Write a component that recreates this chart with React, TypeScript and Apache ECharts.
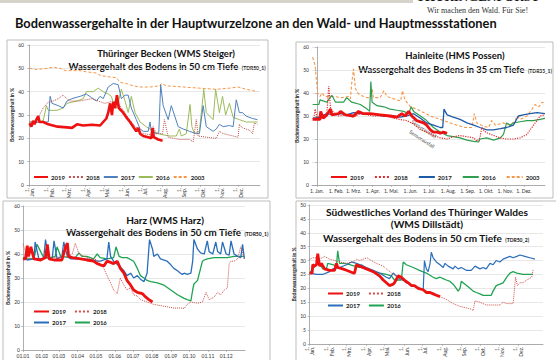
import React, { useEffect, useRef } from 'react';
import * as echarts from 'echarts';

// ---------- axis tick labels ----------
const MONTH_STARTS = [0, 31, 59, 90, 120, 151, 181, 212, 243, 273, 304, 334];
const MONTHS_DE = ['Jan.', 'Feb.', 'Mrz.', 'Apr.', 'Mai.', 'Jun.', 'Jul.', 'Aug.', 'Sep.', 'Okt.', 'Nov.', 'Dez.'];
const MONTHS_NUM = ['01.01', '01.02', '01.03', '01.04', '01.05', '01.06', '01.07', '01.08', '01.09', '01.10', '01.11', '01.12'];

// ---------- Panel 1: Thüringer Becken (WMS Steiger) [day of year, %] ----------
const steiger2019 = [[0,26.4],[3,25],[6,27.5],[8,26],[11,28],[14,29.5],[16,27],[22,27],[30,26],[45,25],[60,24.7],[68,24.5],[76,26],[86,25.5],[100,25.8],[113,25.5],[118,27],[123,28.5],[126,31],[129,35],[132,30],[134,35.5],[137,33],[140,38.5],[143,33],[150,31],[155,29],[161,27],[166,25],[171,23],[174,24.5],[177,22],[182,21],[190,20.5],[195,20],[197,24.5],[199,20.5],[206,19.5],[213,19]];
const steiger2018 = [[0,27],[12,28],[22,33],[30,35.5],[38,36],[46,37],[54,38.5],[60,37],[65,36],[80,36],[100,37],[120,35],[135,36],[145,34],[155,30],[166,26],[182,22],[195,21.5],[198,25],[203,22],[213,22],[216,28],[222,20.5],[240,19.5],[256,19.5],[262,18.5],[267,28],[270,21],[283,20.5],[299,20],[304,23],[310,22],[326,21],[334,20.5],[336,26],[341,24.5],[352,23.5],[357,22],[360,26.5],[365,26]];
const steiger2017 = [[0,26.5],[17,27],[30,27],[33,38],[36,35],[46,34],[54,33],[60,36],[68,37],[81,38],[91,39],[99,37.5],[107,36],[113,38],[118,37],[126,42],[134,43.5],[142,43],[147,37],[153,38.5],[158,38.5],[163,33],[171,28],[177,24],[182,23],[190,23],[193,27],[195,23],[203,22],[207,22.5],[210,43],[214,34],[222,28],[227,34],[232,30],[238,25],[246,24],[256,23],[267,22],[272,22],[278,34],[283,25],[294,23],[299,24],[304,26],[310,25],[320,25.5],[326,25],[331,36.5],[336,31],[341,31],[347,29.5],[357,28.5],[365,28]];
const steiger2016 = [[0,27],[12,27],[22,27.5],[27,34],[30,32],[44,32],[54,33],[60,35],[68,35.5],[76,36],[86,37],[91,40],[102,40],[110,41.5],[118,40],[126,39],[131,38],[137,33],[140,33],[147,41],[153,36],[158,31],[163,38],[169,31],[177,27],[187,25],[198,23],[206,22],[214,21.5],[224,21],[235,21],[240,24],[243,21],[251,22],[257,34.5],[260,25],[264,22],[272,23],[279,41],[283,31],[294,28],[298,41],[304,31],[309,38],[314,30],[320,35],[326,29],[336,28],[347,27],[365,27]];
const steiger2003 = [[0,50],[12,49.5],[28,50],[38,50.5],[49,50],[57,49],[65,49],[81,49],[91,48.5],[107,48],[113,47],[123,46.5],[139,46],[145,44],[155,43.5],[166,42.5],[177,42],[193,42],[209,42.5],[211,43.5],[219,42.5],[246,42],[272,41.5],[299,41],[320,41.5],[334,42],[347,41],[357,40.5],[365,40]];

// ---------- Panel 2: Hainleite (HMS Possen) ----------
const possen2019 = [[-7,28.5],[5,28.5],[6,32],[10,29],[16,30.5],[22,33],[24,30.5],[35,31],[38,32],[46,30.5],[59,30],[67,32],[75,31],[86,31],[102,30.5],[118,30],[129,29.5],[137,31],[142,30],[148,32],[153,30],[161,28],[172,27],[177,26],[183,24],[188,23],[194,23],[199,22.5],[204,23],[210,22.5]];
const possen2018 = [[-5,29],[-3,33],[0,29.5],[11,30.5],[16,31],[19,43],[22,33],[27,31.5],[35,30],[48,30.5],[59,29.5],[70,31],[81,30.5],[91,30],[102,30],[113,30],[124,29],[134,28.5],[145,28],[156,26.5],[167,24],[177,23],[188,21.5],[199,20.5],[210,20],[220,21],[231,21.5],[242,21],[253,20.5],[258,19],[263,20.5],[266,25],[272,23],[285,21.5],[296,20.5],[306,20],[317,20],[328,20.5],[339,22],[344,24],[355,28],[360,30],[368,30.5]];
const possen2017 = [[-7,29],[5,29.5],[16,31],[27,30.5],[38,31],[48,30.5],[59,31.5],[70,31],[86,31],[97,30.5],[108,30],[124,30],[134,29.5],[145,30],[156,31],[167,29],[177,27],[188,26],[199,25],[203,25],[205,33],[210,30.5],[220,29.5],[231,28.5],[242,27],[253,26],[263,25],[274,24],[285,24],[296,24.5],[306,25],[317,26],[325,30],[333,30.5],[344,31],[355,31.5],[368,31]];
const possen2016 = [[-7,35],[3,35],[5,37],[16,36],[24,39],[30,36],[43,36],[48,38],[56,36],[70,35],[81,33],[85,32],[87,45],[89,36],[97,34.5],[108,34],[118,33],[129,32.5],[140,32],[148,31],[152,34],[156,32],[167,30],[177,28],[188,25],[199,23],[210,21.5],[220,21],[231,20.5],[242,19.5],[253,19],[261,18.7],[263,20],[274,20.5],[285,19.5],[296,20.5],[301,22],[306,27],[312,26],[317,27],[328,27.5],[339,28],[349,28],[360,28.5],[368,29]];
const possen2003 = [[-7,55.6],[-3,52],[1,40],[5,38.5],[8,40],[13,38.5],[27,38.5],[40,38],[51,38.5],[54,37.5],[56,44],[59,50.5],[62,42],[66,40],[70,39],[81,38],[86,38],[89,42],[91,38],[102,38],[108,41],[113,38.5],[118,38],[129,37],[135,36.5],[138,41],[142,37],[151,34],[161,33],[172,31.5],[183,30],[194,29],[210,27.5],[226,26],[239,25],[250,25],[254,31],[258,27],[269,25.5],[277,25],[282,28],[288,26],[301,27],[312,26],[320,28],[323,30],[328,28.5],[339,30],[347,33],[352,35],[358,34],[363,36],[368,35.5]];

// ---------- Panel 3: Harz (WMS Harz) ----------
const harz2019 = [[0,38],[4,38],[7,43.5],[9,39],[13,43],[18,38],[29,37.5],[37,38.5],[40,44],[43,38],[51,37.5],[64,37.5],[70,43],[73,44.5],[75,39],[81,38.5],[95,38],[105,37.5],[116,37],[122,36],[127,35.5],[133,35],[138,37],[144,36.5],[149,36],[155,37],[160,34],[166,32],[171,29],[177,27],[182,25],[188,24],[196,23.5],[202,22],[207,21],[213,20]];
const harz2018 = [[0,44.3],[7,38.5],[18,38],[29,38],[51,38.5],[73,39],[81,40],[86,44.5],[92,40],[105,38.5],[122,37.5],[127,36],[133,34],[138,31],[144,28],[149,25],[155,23.5],[160,30],[166,27],[171,25],[177,26],[182,23],[188,22.5],[193,21],[204,20],[215,19],[226,18.5],[237,18],[248,17.5],[259,17.5],[265,17.3],[270,19],[276,20],[287,19.5],[295,20],[301,24],[306,21],[314,22],[320,24],[325,23],[331,25],[336,26],[339,36],[342,37],[347,37],[353,38],[358,43],[364,38]];
const harz2017 = [[0,38.5],[7,37.5],[18,38],[20,45],[26,38],[34,38],[37,46],[42,38],[48,38],[51,45.5],[56,38],[64,39],[67,45],[73,39],[78,38],[89,38],[100,38],[114,37.5],[122,37],[127,37],[138,38],[141,45],[144,39],[149,37],[158,35],[166,33],[171,31],[177,32],[182,30],[188,31],[193,29.5],[199,28.5],[204,32],[208,46],[213,42],[215,39],[221,40],[226,38],[237,37],[243,35.5],[248,34],[254,33],[259,32],[262,31.5],[265,32],[270,31.5],[276,32],[279,37],[281,46],[287,42],[292,40.5],[298,40],[303,45.5],[306,41],[312,40],[317,45],[320,41],[325,40],[328,45],[334,40],[339,39.5],[342,45.5],[347,40],[353,39],[358,38.5],[361,44],[364,38]];
const harz2016 = [[0,38.5],[7,38],[18,38],[23,44],[29,41],[34,38.5],[45,38.5],[53,39],[56,43],[62,39],[78,38.5],[86,38.5],[92,40.5],[97,39],[105,39],[116,38],[122,40],[127,38.5],[138,38],[149,38.5],[153,43],[158,39],[163,38.5],[171,38.5],[182,37],[188,34],[193,31],[199,30],[204,29],[210,28.5],[221,28],[232,27],[243,25],[254,23],[265,21.5],[270,21],[276,20.5],[279,25],[281,27.5],[287,29],[292,34],[295,37],[298,37.5],[303,38],[314,38.5],[325,38.5],[336,38.5],[347,39],[358,39],[364,39]];

// ---------- Panel 4: Südwestliches Vorland des Thüringer Waldes (WMS Dillstädt) ----------
const dill2019 = [[0,25.5],[4,25.5],[5,28.5],[8,28],[11,28.5],[13,32.5],[16,28],[19,29],[24,27],[32,26.5],[40,26.5],[43,29],[45,27.5],[53,27],[59,26.5],[70,25.5],[72,25.5],[75,28.5],[80,28],[91,27],[102,26],[112,24.5],[118,23],[123,22],[128,21],[134,21.5],[136,22],[142,24.5],[147,24],[152,23],[158,22],[163,21],[168,21],[174,20],[182,19.5],[187,18.5],[193,18.5],[198,18],[203,17.5],[209,17]];
const dill2018 = [[0,30.4],[5,31],[11,31],[16,30.5],[24,31.5],[32,30.5],[40,30],[48,29.5],[59,29],[70,29.5],[75,30.5],[80,30],[86,30.5],[92,31],[99,30],[107,29],[118,28],[123,27],[134,25],[144,23.5],[155,22],[166,21],[176,20],[187,19],[198,18],[209,17],[219,16],[230,14.5],[241,13.5],[251,13],[259,12.5],[262,12],[265,15.5],[273,15],[283,14],[294,14],[305,14],[310,15],[316,14.5],[326,14.5],[328,19],[330,24],[333,21],[337,22],[342,22],[348,23],[356,24],[358,26.5]];
const dill2017 = [[0,25.5],[11,25],[21,25],[32,26],[37,27],[48,27.5],[59,28.5],[67,29.5],[75,29],[86,28],[91,27.5],[102,26.5],[112,25.5],[123,24],[128,23.5],[134,25.5],[139,24.5],[144,23.5],[150,23],[155,22],[166,21],[176,20],[182,19.5],[184,30],[187,27],[190,26],[193,29],[195,33],[198,31],[203,29.5],[209,28.5],[214,27.5],[217,29],[222,28],[230,27],[233,28],[238,27],[243,27.5],[251,26.5],[259,26.5],[265,28],[273,27],[278,27.5],[283,27],[289,29],[294,28.5],[299,30],[305,29.5],[310,30.5],[321,31.5],[326,31],[332,31.5],[337,32],[345,31.5],[353,31],[361,30.5]];
const dill2016 = [[0,25.5],[5,27],[11,28.5],[16,29],[21,27],[27,27],[29,29],[37,28.5],[43,28],[45,33.5],[48,29],[56,29],[64,28.5],[72,28],[80,27.5],[83,28.5],[91,27],[102,26],[112,25.5],[123,25],[131,24.5],[136,23],[142,23],[147,23],[150,29.5],[155,28.5],[166,27.5],[176,26.5],[187,25.5],[198,24],[203,23.5],[209,24],[214,23.5],[219,23],[225,22.5],[230,21.5],[235,20],[238,19],[241,20],[243,22.5],[249,21.5],[257,20],[262,19],[267,18.5],[273,18],[278,17.5],[286,17.5],[291,17.5],[294,19],[299,21],[305,21.5],[310,22],[316,24],[321,25.5],[326,26],[332,25.5],[342,25],[353,25],[358,25]];

const FONT = 'Lato, "Open Sans", sans-serif';
const SEP = '·';

function ln(year: string, p: number, data: number[][], color: string, width: number, type: any, z: number) {
  return {
    name: year + SEP + p, type: 'line', xAxisIndex: p, yAxisIndex: p, data,
    symbol: 'none', showSymbol: false, silent: true, z,
    lineStyle: { color, width, type }, itemStyle: { color, opacity: 0 },
    emphasis: { disabled: true },
  };
}

const DASH: any = [3, 2];

function xAxis(p: number, min: number, max: number, labels: string[], rotate: number) {
  return {
    type: 'value', gridIndex: p, min, max,
    axisLine: { show: true, onZero: false, lineStyle: { color: '#9a9a9a', width: 0.8 } },
    axisTick: { show: true, customValues: MONTH_STARTS, length: 2, lineStyle: { color: '#9a9a9a', width: 0.6 } },
    axisLabel: {
      customValues: MONTH_STARTS, rotate, fontSize: 5, lineHeight: 5.5, color: '#333', fontFamily: FONT, margin: 3,
      formatter: (v: number) => { const i = MONTH_STARTS.indexOf(Math.round(v)); return i >= 0 ? labels[i] : ''; },
    },
    splitLine: { show: false },
  };
}

function yAxis(p: number, max: number, interval: number, nameGap: number) {
  return {
    type: 'value', gridIndex: p, min: 0, max, interval,
    name: 'Bodenwassergehalt in %', nameLocation: 'middle', nameRotate: 90, nameGap,
    nameTextStyle: { fontSize: 5, fontWeight: 'bold', color: '#222', fontFamily: FONT },
    axisLine: { show: true, lineStyle: { color: '#9a9a9a', width: 0.8 } },
    axisTick: { show: true, length: 2, lineStyle: { color: '#9a9a9a', width: 0.6 } },
    axisLabel: { fontSize: 5, color: '#333', fontFamily: FONT, margin: 3 },
    splitLine: { show: true, lineStyle: { color: '#d9d9d9', width: 0.6 } },
  };
}

function legend(left: number, top: number, names: string[], itemWidth: number, itemGap: number) {
  return {
    left, top, padding: 0, itemWidth, itemHeight: 6, itemGap, data: names,
    selectedMode: false,
    itemStyle: { opacity: 0 },
    formatter: (n: string) => n.split(SEP)[0],
    textStyle: { fontSize: 6, fontWeight: 'bold', color: '#222', fontFamily: FONT, padding: [0, 0, 0, -2] },
  };
}

function ttl(x: number, y: number, text: string, size: number) {
  return { type: 'text', x, y, silent: true, style: { text, fill: '#111', font: `bold ${size}px ${FONT}`, textAlign: 'center', textVerticalAlign: 'middle' } };
}
function ttl2(x: number, y: number, main: string, small: string, size: number) {
  return {
    type: 'text', x, y, silent: true,
    style: {
      text: `{b|${main}} {s|${small}}`, textAlign: 'center', textVerticalAlign: 'middle', fill: '#111',
      rich: { b: { font: `bold ${size}px ${FONT}`, fill: '#111', verticalAlign: 'bottom' }, s: { font: `bold 5px ${FONT}`, fill: '#111', verticalAlign: 'bottom', padding: [0, 0, 1, 0] } },
    },
  };
}
function frame(x: number, y: number, w: number, h: number) {
  return { type: 'rect', silent: true, shape: { x, y, width: w, height: h }, style: { fill: 'none', stroke: '#bdbdbd', lineWidth: 1 } };
}

const deLong = MONTHS_DE.map((m) => '1.\n' + m);
const deShort = MONTHS_DE.map((m) => '1. ' + m);

const option: any = {
  animation: false,
  backgroundColor: '#ffffff',
  grid: [
    { left: 27, top: 45, width: 233, height: 140 },
    { left: 312, top: 47, width: 233, height: 138 },
    { left: 23, top: 206, width: 222, height: 144 },
    { left: 309, top: 205, width: 234, height: 140 },
  ],
  xAxis: [
    xAxis(0, -4, 369, deLong, 90),
    xAxis(1, -8, 368, deShort, 0),
    xAxis(2, 0, 365, MONTHS_NUM, 0),
    xAxis(3, -1, 374, deLong, 90),
  ],
  yAxis: [yAxis(0, 60, 10, 9), yAxis(1, 60, 10, 3), yAxis(2, 60, 10, 9), yAxis(3, 50, 5, 3)],
  legend: [
    legend(33, 174, ['2019·0', '2018·0', '2017·0', '2016·0', '2003·0'], 14, 3),
    legend(330, 174, ['2019·1', '2018·1', '2017·1', '2016·1', '2003·1'], 16, 10),
    legend(33, 308.5, ['2019·2', '2018·2'], 15, 8),
    legend(33, 319.5, ['2017·2', '2016·2'], 15, 8),
    legend(327, 290.5, ['2019·3', '2018·3'], 15, 8),
    legend(327, 302.5, ['2017·3', '2016·3'], 15, 8),
  ],
  series: [
    ln('2003', 0, steiger2003, '#f79646', 1, DASH, 1),
    ln('2016', 0, steiger2016, '#9bbb59', 1, 'solid', 2),
    ln('2017', 0, steiger2017, '#4f81bd', 1, 'solid', 3),
    ln('2018', 0, steiger2018, '#c0504d', 1, 'dotted', 4),
    ln('2019', 0, steiger2019, '#ee1111', 2.6, 'solid', 5),

    ln('2003', 1, possen2003, '#f79646', 1.1, DASH, 1),
    ln('2016', 1, possen2016, '#2e9e4f', 1.2, 'solid', 2),
    ln('2017', 1, possen2017, '#1f5aa6', 1.3, 'solid', 3),
    ln('2018', 1, possen2018, '#e02a2a', 1.2, 'dotted', 4),
    ln('2019', 1, possen2019, '#ee1111', 2.8, 'solid', 5),

    ln('2016', 2, harz2016, '#1fa352', 1.3, 'solid', 2),
    ln('2017', 2, harz2017, '#2a6ebb', 1.3, 'solid', 3),
    ln('2018', 2, harz2018, '#d0504d', 1, 'dotted', 4),
    ln('2019', 2, harz2019, '#ee1111', 2.8, 'solid', 5),

    ln('2016', 3, dill2016, '#1fa352', 1.3, 'solid', 2),
    ln('2017', 3, dill2017, '#2a6ebb', 1.2, 'solid', 3),
    ln('2018', 3, dill2018, '#d0504d', 1, 'dotted', 4),
    ln('2019', 3, dill2019, '#ee1111', 2.8, 'solid', 5),
  ],
  graphic: [
    { type: 'rect', silent: true, shape: { x: 0, y: 0, width: 413, height: 3 }, style: { fill: '#d6d3cb' } },
    { type: 'text', silent: true, x: 478, y: 3, style: { text: 'THÜRINGENFORST', font: 'bold 13px "Liberation Serif", serif', fill: '#111', textAlign: 'center', textVerticalAlign: 'bottom' } },
    { type: 'text', silent: true, x: 427, y: 10, style: { text: 'Wir machen den Wald. Für Sie!', font: '8px "Liberation Serif", "DejaVu Serif", serif', fill: '#333', textAlign: 'left', textVerticalAlign: 'middle' } },
    { type: 'text', silent: true, x: 15, y: 23, style: { text: 'Bodenwassergehalte in der Hauptwurzelzone an den Wald- und Hauptmessstationen', font: `bold 12.8px ${FONT}`, fill: '#111', textVerticalAlign: 'middle' } },

    frame(7, 40, 261, 158),
    frame(296, 42, 257, 156),
    frame(3, 201, 267, 170),
    frame(296, 201, 270, 170),

    ttl(166, 53, 'Thüringer Becken (WMS Steiger)', 9.5),
    ttl2(167, 65, 'Wassergehalt des Bodens in 50 cm Tiefe', '(TDR50_1)', 9.5),
    ttl(455, 55, 'Hainleite (HMS Possen)', 9.5),
    ttl2(455, 68, 'Wassergehalt des Bodens in 35 cm Tiefe', '(TDR35_1)', 9.3),
    ttl(165, 220, 'Harz (WMS Harz)', 10),
    ttl2(167, 231, 'Wassergehalt des Bodens in 50 cm Tiefe', '(TDR50_1)', 9.8),
    ttl(427, 212, 'Südwestliches Vorland des Thüringer Waldes', 10.2),
    ttl(427, 224, '(WMS Dillstädt)', 10.2),
    ttl2(426, 237, 'Wassergehalt des Bodens in 50 cm Tiefe', '(TDR50_2)', 10),

    { type: 'text', silent: true, x: 424, y: 129, rotation: -33 * Math.PI / 180, style: { text: 'Sensorausfall', font: `5px ${FONT}`, fill: '#444', textAlign: 'center', textVerticalAlign: 'middle' } },
    { type: 'text', silent: true, x: 422, y: 139, rotation: -33 * Math.PI / 180, style: { text: 'Sensorausfall', font: `5px ${FONT}`, fill: '#444', textAlign: 'center', textVerticalAlign: 'middle' } },
  ],
};

export default function App() {
  const ref = useRef<HTMLDivElement>(null);
  useEffect(() => {
    const chart = echarts.init(ref.current!, null, { renderer: 'svg' });
    chart.setOption(option);
    return () => chart.dispose();
  }, []);
  return <div ref={ref} style={{ position: 'fixed', left: 0, top: 0, width: 556, height: 360, background: '#fff' }} />;
}
